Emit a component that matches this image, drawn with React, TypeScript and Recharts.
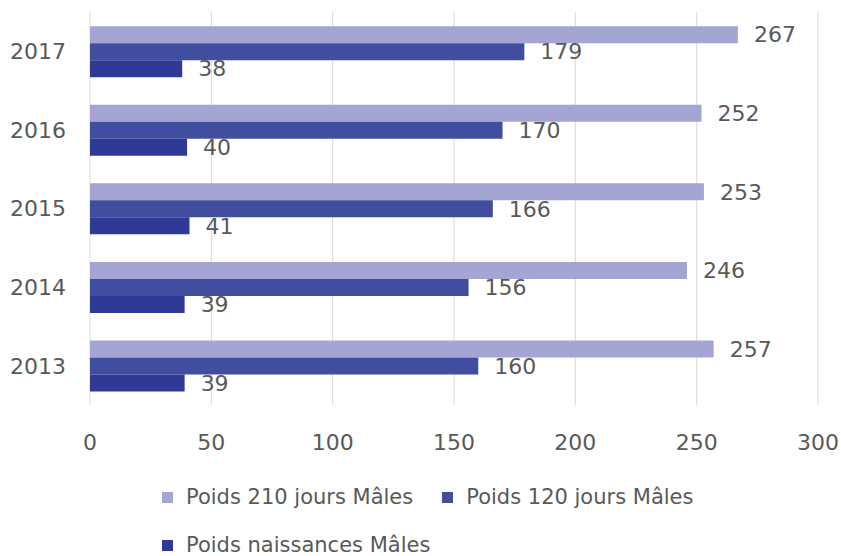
import React from "react";
import { BarChart, Bar, XAxis, YAxis, CartesianGrid, Legend, LabelList } from "recharts";

const years = ["2017", "2016", "2015", "2014", "2013"];
const poids210 = [267, 252, 253, 246, 257];
const poids120 = [179, 170, 166, 156, 160];
const poidsNaissance = [38, 40, 41, 39, 39];
const xTicks = [0, 50, 100, 150, 200, 250, 300];

const seriesNames = ["Poids 210 jours Mâles", "Poids 120 jours Mâles", "Poids naissances Mâles"];
const colors = ["#a5a5d3", "#414ea0", "#2e3a96"];

const data = years.map((y, i) => ({
  year: y,
  p210: poids210[i],
  p120: poids120[i],
  pn: poidsNaissance[i],
}));

const FONT = "'DejaVu Sans', sans-serif";
const TXT = "#595959";

const LegendContent = () => (
  <div
    style={{
      height: 101,
      paddingTop: 18,
      paddingLeft: 162,
      boxSizing: "border-box",
      width: 760,
      display: "flex",
      flexWrap: "wrap",
      alignContent: "flex-start",
      fontFamily: FONT,
      fontSize: 21,
      color: TXT,
    }}
  >
    {seriesNames.map((n, i) => (
      <div key={n} style={{ display: "flex", alignItems: "center", height: 48, marginRight: 29 }}>
        <span style={{ width: 11, height: 11, background: colors[i], display: "inline-block", marginRight: 13 }} />
        <span style={{ whiteSpace: "nowrap" }}>{n}</span>
      </div>
    ))}
  </div>
);

export default function App() {
  return (
    <div style={{ position: "absolute", left: 0, top: 0, width: 841, height: 556, background: "#fff" }}>
      <BarChart
        width={841}
        height={556}
        data={data}
        layout="vertical"
        margin={{ top: 12, right: 23, left: 0, bottom: 0 }}
        barCategoryGap="18%"
        barGap={0}
      >
        <CartesianGrid horizontal={false} stroke="#d9d9d9" />
        <XAxis
          type="number"
          domain={[0, 300]}
          ticks={xTicks}
          axisLine={false}
          tickLine={false}
          tickSize={0}
          tickMargin={29}
          height={50}
          tick={{ fill: TXT, fontSize: 22, fontFamily: FONT }}
        />
        <YAxis
          type="category"
          dataKey="year"
          width={90}
          axisLine={false}
          tickLine={false}
          tickSize={0}
          tickMargin={24}
          tick={{ fill: TXT, fontSize: 22, fontFamily: FONT }}
        />
        <Legend verticalAlign="bottom" align="left" content={<LegendContent />} />
        <Bar dataKey="p210" name={seriesNames[0]} fill={colors[0]} isAnimationActive={false}>
          <LabelList dataKey="p210" position="right" offset={16} fill={TXT} fontSize={22} fontFamily={FONT} />
        </Bar>
        <Bar dataKey="p120" name={seriesNames[1]} fill={colors[1]} isAnimationActive={false}>
          <LabelList dataKey="p120" position="right" offset={16} fill={TXT} fontSize={22} fontFamily={FONT} />
        </Bar>
        <Bar dataKey="pn" name={seriesNames[2]} fill={colors[2]} isAnimationActive={false}>
          <LabelList dataKey="pn" position="right" offset={16} fill={TXT} fontSize={22} fontFamily={FONT} />
        </Bar>
      </BarChart>
    </div>
  );
}
